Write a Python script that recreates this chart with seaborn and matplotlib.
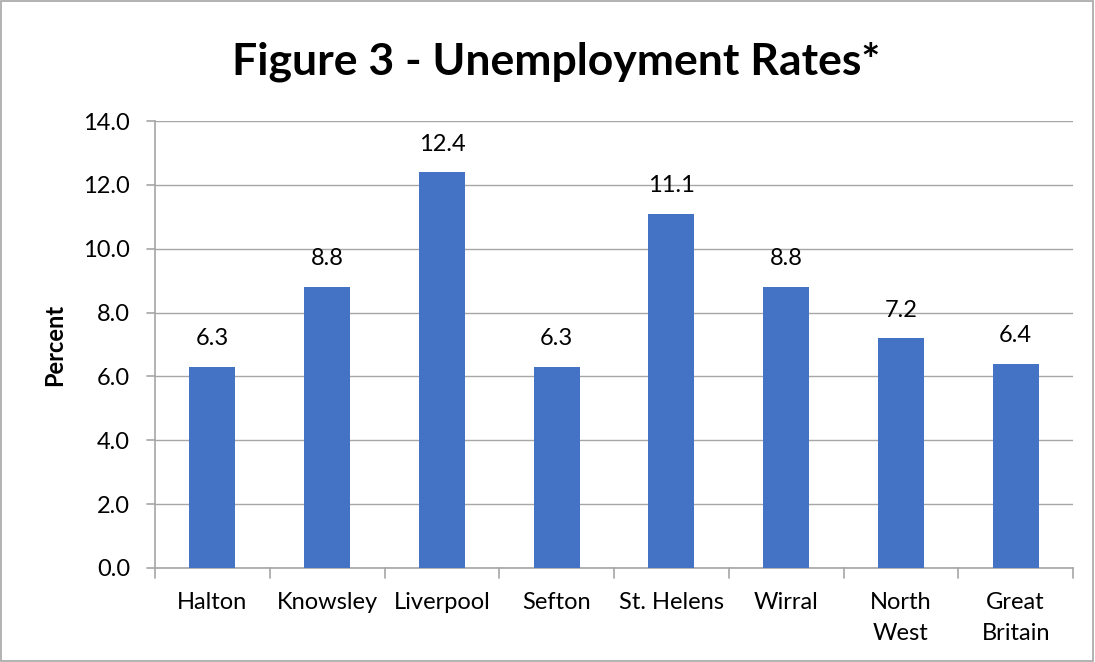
import matplotlib
matplotlib.use("Agg")
import matplotlib.pyplot as plt
import seaborn as sns
import pandas as pd

categories = ["Halton", "Knowsley", "Liverpool", "Sefton", "St. Helens", "Wirral", "North\nWest", "Great\nBritain"]
values = [6.3, 8.8, 12.4, 6.3, 11.1, 8.8, 7.2, 6.4]
yticks = [0.0, 2.0, 4.0, 6.0, 8.0, 10.0, 12.0, 14.0]
title = "Figure 3 - Unemployment Rates*"
ylabel = "Percent"

sns.set_style("white")
plt.rcParams['font.family'] = ['Lato', 'DejaVu Sans']
plt.rcParams['text.color'] = 'black'
plt.rcParams['xtick.color'] = 'black'
plt.rcParams['ytick.color'] = 'black'
plt.rcParams['axes.labelcolor'] = 'black'

df = pd.DataFrame({"cat": categories, "val": values})

fig = plt.figure(figsize=(10.95, 6.62), dpi=100)
ax = fig.add_axes([155/1095, 1-568/662, (1073-155)/1095, (568-121)/662])
sns.barplot(data=df, x="cat", y="val", color="#4472C4", width=0.4, saturation=1,
            linewidth=0, ax=ax, zorder=3)

ax.set_ylim(0, 14)
ax.set_xlim(-0.5, len(categories)-0.5)
ax.set_yticks(yticks)
ax.set_yticklabels([f"{t:.1f}" for t in yticks], fontsize=17)
ax.set_xticks(range(len(categories)))
ax.set_xticklabels(categories, fontsize=17, linespacing=1.6)
ax.tick_params(axis='x', length=0, pad=17)
ax.tick_params(axis='y', length=0, pad=18)
# boundary tick marks
for b in [i - 0.5 for i in range(len(categories)+1)]:
    ax.plot([b, b], [0, -0.3], color="#A6A6A6", lw=1.2, clip_on=False, zorder=4)
for t in yticks:
    ax.plot([-0.5 - 0.07, -0.5], [t, t], color="#A6A6A6", lw=1.2, clip_on=False, zorder=4)

ax.grid(axis='y', color="#A6A6A6", lw=1.0, zorder=0)
ax.grid(axis='x', visible=False)
for s in ["top", "right"]:
    ax.spines[s].set_visible(False)
for s in ["left", "bottom"]:
    ax.spines[s].set_color("#A6A6A6")
    ax.spines[s].set_linewidth(1.2)
ax.set_xlabel("")
ax.set_ylabel(ylabel, fontsize=17, fontweight='bold', labelpad=12)

for i, v in enumerate(values):
    ax.text(i, v + 0.55, f"{v:.1f}", ha='center', va='bottom', fontsize=17)

fig.suptitle(title, x=556/1095, y=1-62/662, va='center', fontsize=32, fontweight='bold')

fig.patches.append(plt.Rectangle((0.001, 0.001), 0.997, 0.997, transform=fig.transFigure,
                                 fill=False, edgecolor="#A6A6A6", lw=1.2))
fig.savefig("out.png", dpi=100)
